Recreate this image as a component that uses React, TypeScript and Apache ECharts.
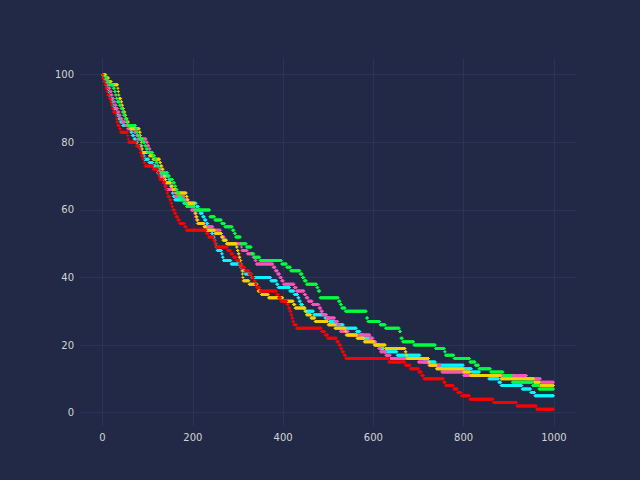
import React, { useEffect, useRef } from "react";
import * as echarts from "echarts";

const xTicks = [0, 200, 400, 600, 800, 1000];
const yTicks = [0, 20, 40, 60, 80, 100];
const lastStep = 999;
const seriesNames = ["cyan", "magenta", "yellow", "green", "red"];
const seriesColors = ["#08F7FE", "#FE53BB", "#F5D300", "#00FF41", "#FF0000"];

// each pair: [step where the level starts, level]
const cyanLevels = [[0,100],[2,99],[4,98],[7,97],[9,96],[12,95],[15,94],[17,93],[20,92],[23,91],[25,90],[30,89],[33,88],[36,87],[40,86],[45,85],[60,84],[63,83],[66,82],[70,81],[74,80],[78,79],[86,78],[88,77],[90,76],[93,75],[103,74],[112,73],[119,72],[122,71],[127,70],[147,69],[149,68],[151,67],[153,66],[155,65],[157,64],[160,63],[180,62],[208,61],[213,60],[216,59],[222,58],[226,57],[230,56],[234,55],[238,54],[242,53],[245,52],[248,51],[250,50],[252,49],[254,48],[264,47],[266,46],[268,45],[285,44],[306,43],[311,42],[316,41],[330,40],[373,39],[386,38],[389,37],[415,36],[425,35],[433,34],[436,33],[439,32],[444,31],[449,30],[468,29],[493,28],[503,27],[515,26],[534,25],[563,24],[571,23],[578,22],[597,21],[605,20],[614,19],[624,18],[653,17],[704,16],[712,15],[738,14],[800,13],[818,12],[836,11],[856,10],[878,9],[883,8],[930,7],[949,6],[958,5]];

const magentaLevels = [[0,100],[4,99],[8,98],[11,97],[14,96],[17,95],[20,94],[22,93],[25,92],[28,91],[31,90],[34,89],[37,88],[40,87],[44,86],[50,85],[56,84],[71,83],[75,82],[78,81],[97,80],[100,79],[103,78],[106,77],[110,76],[114,75],[118,74],[121,73],[124,72],[130,71],[133,70],[135,69],[137,68],[139,67],[141,66],[160,65],[162,64],[182,63],[190,62],[194,61],[197,60],[204,59],[206,58],[208,57],[210,56],[227,55],[245,54],[262,53],[264,52],[270,51],[275,50],[308,49],[309,48],[321,47],[334,46],[338,45],[341,44],[378,43],[383,42],[388,41],[393,40],[397,39],[401,38],[425,37],[430,36],[447,35],[451,34],[456,33],[465,32],[480,31],[484,30],[488,29],[497,28],[515,27],[522,26],[525,25],[527,24],[545,23],[593,22],[600,21],[606,20],[612,19],[616,18],[628,17],[638,16],[700,15],[723,14],[749,13],[752,12],[800,11],[940,10],[971,9]];

const yellowLevels = [[0,100],[8,99],[14,98],[20,97],[34,96],[35,95],[36,94],[37,93],[41,92],[43,91],[45,90],[47,89],[50,88],[52,87],[55,86],[58,85],[62,84],[82,83],[84,82],[85,81],[86,80],[87,79],[88,78],[89,77],[104,76],[112,75],[127,74],[129,73],[132,72],[135,71],[137,70],[139,69],[141,68],[152,67],[156,66],[164,65],[186,64],[188,63],[190,62],[204,61],[205,60],[206,59],[208,58],[210,57],[212,56],[225,55],[230,54],[249,53],[264,52],[267,51],[275,50],[297,49],[299,48],[301,47],[303,46],[305,45],[307,44],[308,43],[309,42],[310,41],[311,40],[312,39],[325,38],[343,37],[345,36],[352,35],[368,34],[400,33],[423,32],[427,31],[449,30],[452,29],[462,28],[471,27],[500,26],[515,25],[538,24],[540,23],[564,22],[580,21],[602,20],[627,19],[671,18],[673,17],[675,16],[723,15],[725,14],[740,13],[800,12],[815,11],[883,10],[956,9],[969,8]];

const greenLevels = [[0,100],[3,99],[10,98],[15,97],[24,96],[27,95],[29,94],[31,93],[33,92],[38,91],[41,90],[44,89],[47,88],[50,87],[53,86],[55,85],[74,84],[76,83],[78,82],[82,81],[90,80],[94,79],[97,78],[100,77],[112,76],[116,75],[119,74],[122,73],[125,72],[127,71],[145,70],[149,69],[156,68],[160,67],[163,66],[166,65],[170,64],[174,63],[182,62],[186,61],[204,60],[238,58],[249,57],[264,56],[271,55],[288,54],[292,53],[295,52],[306,50],[319,49],[330,47],[336,46],[349,45],[397,44],[408,43],[417,42],[438,41],[443,40],[447,39],[452,38],[475,37],[478,36],[482,34],[523,33],[527,32],[530,31],[538,30],[585,28],[588,27],[615,26],[627,25],[658,24],[661,22],[665,21],[690,20],[738,19],[758,18],[760,17],[779,16],[814,15],[826,14],[834,13],[860,12],[888,11],[908,9],[953,8],[967,7]];

const redLevels = [[0,100],[1,99],[3,98],[6,97],[8,96],[10,95],[12,94],[15,93],[18,92],[20,91],[22,90],[24,89],[30,88],[31,87],[32,86],[34,85],[38,84],[40,83],[56,82],[57,81],[58,80],[75,79],[82,78],[84,77],[86,76],[90,75],[92,74],[94,73],[112,72],[123,71],[125,70],[127,69],[134,68],[138,67],[141,66],[143,65],[145,64],[149,63],[152,62],[154,61],[156,60],[160,59],[163,58],[167,57],[171,56],[182,55],[186,54],[230,53],[235,52],[246,51],[249,50],[252,49],[277,48],[284,47],[290,46],[297,45],[303,44],[307,43],[316,42],[325,41],[331,40],[336,39],[339,38],[341,37],[349,36],[386,35],[390,34],[395,33],[409,32],[412,31],[415,30],[418,29],[420,28],[422,27],[424,26],[430,25],[485,24],[493,23],[499,22],[519,21],[524,20],[528,19],[531,18],[535,17],[539,16],[634,15],[671,14],[682,13],[701,12],[707,11],[712,10],[756,9],[760,8],[778,7],[787,6],[795,5],[814,4],[866,3],[918,2],[962,1]];

const allLevels = [cyanLevels, magentaLevels, yellowLevels, greenLevels, redLevels];

function expandLevels(levels: number[][]): number[][] {
  const out: number[][] = [];
  let k = 0;
  for (let x = 0; x <= lastStep; x++) {
    while (k + 1 < levels.length && levels[k + 1][0] <= x) k++;
    out.push([x, levels[k][1]]);
  }
  return out;
}

const plusSymbol = "path://M1,0H2V1H3V2H2V3H1V2H0V1H1Z";

export default function App() {
  const ref = useRef<HTMLDivElement>(null);
  useEffect(() => {
    document.body.style.margin = "0";
    const chart = echarts.init(ref.current!, null, { renderer: "svg" });
    const labelStyle = {
      color: "#D3D3D3",
      fontSize: 10,
      fontFamily: "DejaVu Sans",
      formatter: (v: number) => String(v),
    };
    const gridLine = { show: true, lineStyle: { color: "#2A3459", width: 1 } };
    chart.setOption({
      animation: false,
      backgroundColor: "#212946",
      grid: { left: 80, right: 64, top: 58, bottom: 54 },
      xAxis: {
        type: "value",
        min: -49.95,
        max: 1048.95,
        axisLine: { show: false },
        axisTick: { show: false, customValues: xTicks },
        axisLabel: { ...labelStyle, margin: 6, customValues: xTicks },
        splitLine: gridLine,
      },
      yAxis: {
        type: "value",
        min: -3.95,
        max: 104.95,
        axisLine: { show: false },
        axisTick: { show: false, customValues: yTicks },
        axisLabel: { ...labelStyle, margin: 6, customValues: yTicks },
        splitLine: gridLine,
      },
      series: allLevels.map((lv, i) => ({
        name: seriesNames[i],
        type: "scatter",
        symbol: plusSymbol,
        symbolSize: 3,
        silent: true,
        itemStyle: { color: seriesColors[i], opacity: 1 },
        data: expandLevels(lv),
      })),
    });
    return () => chart.dispose();
  }, []);
  return <div ref={ref} style={{ width: 640, height: 480, position: "fixed", left: 0, top: 0 }} />;
}
